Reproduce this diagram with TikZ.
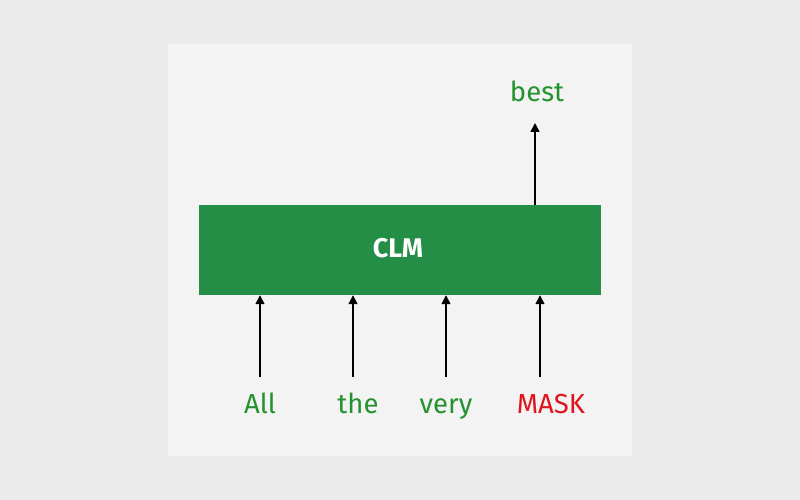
\documentclass[tikz,border=0pt]{standalone}
\usepackage{fontspec}
\setmainfont{Fira Sans}
\usetikzlibrary{arrows.meta}
\definecolor{bgout}{HTML}{EBEBEB}
\definecolor{bgin}{HTML}{F3F3F3}
\definecolor{boxgreen}{HTML}{258E46}
\definecolor{txtgreen}{HTML}{24922F}
\definecolor{txtred}{HTML}{E0141B}
\tikzset{
  word/.style={font=\fontsize{27.5}{30}\selectfont, text=txtgreen, inner sep=0pt, anchor=base},
  arr/.style={-{Triangle[length=9pt,width=9pt]}, line width=1.6pt, black}
}
\begin{document}
\begin{tikzpicture}[x=1pt,y=-1pt]
\fill[bgout] (0,0) rectangle (800,500);
\useasboundingbox (0,0) rectangle (800,500);
\fill[bgin] (168,44) rectangle (632,456);
\node[fill=boxgreen, minimum width=402pt, minimum height=90pt, inner sep=0pt] (clm) at (400,250) {};
\node[text=white, font=\fontsize{27}{30}\selectfont\bfseries, inner sep=0pt, anchor=base] (clmlabel) at (398,257) {CLM};
\node[word] (all) at (260,413) {All};
\node[word] (the) at (358,413) {the};
\node[word] (very) at (446,413) {very};
\node[word, text=txtred] (mask) at (551,413) {MASK};
\node[word] (best) at (537,102) {best};
\coordinate (a1) at (260,377);
\coordinate (a2) at (353,377);
\coordinate (a3) at (446,377);
\coordinate (a4) at (540,377);
\draw[arr] (a1) -- (a1 |- clm.south);
\draw[arr] (a2) -- (a2 |- clm.south);
\draw[arr] (a3) -- (a3 |- clm.south);
\draw[arr] (a4) -- (a4 |- clm.south);
\coordinate (t1) at (535,123);
\draw[arr] (t1 |- clm.north) -- (t1);
\end{tikzpicture}
\end{document}
